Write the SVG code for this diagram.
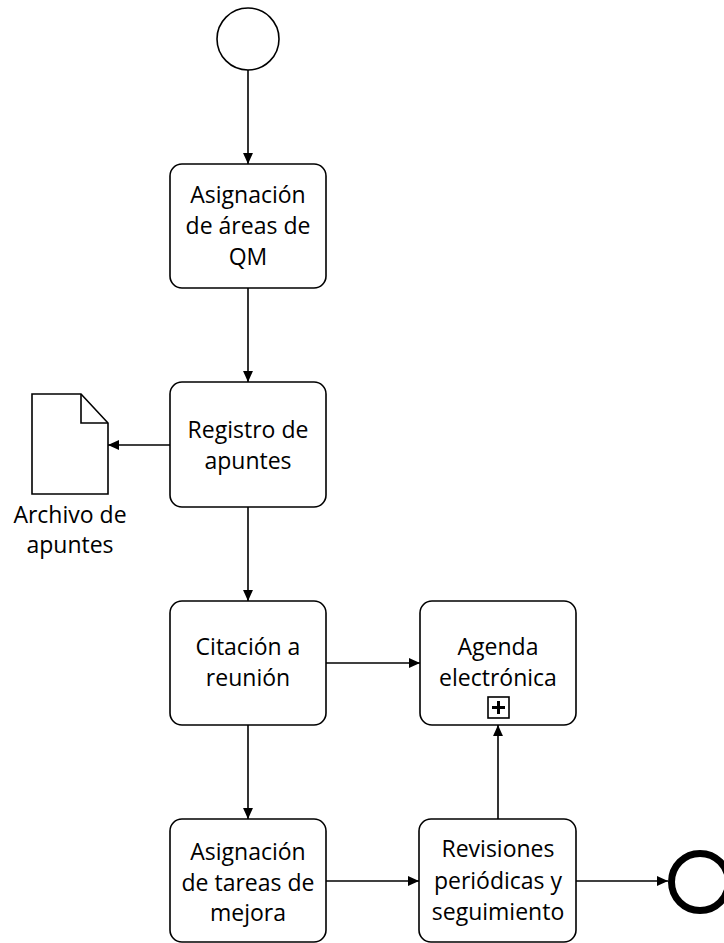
<svg xmlns="http://www.w3.org/2000/svg" width="724" height="943" viewBox="0 0 724 943">
<style>
.task{fill:#fff;stroke:#000;stroke-width:1.6}
.lbl{font-family:"Open Sans","Noto Sans","Liberation Sans",sans-serif;font-size:23px;fill:#000;text-anchor:middle}
.edge{fill:none;stroke:#000;stroke-width:1.6}
</style>
<defs>
<marker id="arr" viewBox="0 0 10 10" refX="10" refY="5" markerWidth="11" markerHeight="11" markerUnits="userSpaceOnUse" orient="auto">
<path d="M0,0.5 L10,5 L0,9.5 Z" fill="#000"/>
</marker>
</defs>
<rect width="724" height="943" fill="#fff"/>
<g id="connectors">
<line class="edge" x1="248" y1="70" x2="248" y2="164" marker-end="url(#arr)"/>
<line class="edge" x1="248" y1="288" x2="248" y2="382" marker-end="url(#arr)"/>
<line class="edge" x1="170" y1="445" x2="108" y2="445" marker-end="url(#arr)"/>
<line class="edge" x1="248" y1="507" x2="248" y2="601" marker-end="url(#arr)"/>
<line class="edge" x1="326" y1="663" x2="420" y2="663" marker-end="url(#arr)"/>
<line class="edge" x1="248" y1="725" x2="248" y2="819" marker-end="url(#arr)"/>
<line class="edge" x1="326" y1="881" x2="419" y2="881" marker-end="url(#arr)"/>
<line class="edge" x1="498" y1="819" x2="498" y2="725" marker-end="url(#arr)"/>
<line class="edge" x1="576" y1="881" x2="668" y2="881" marker-end="url(#arr)"/>
</g>
<g id="start">
<circle cx="248" cy="39" r="31" fill="#fff" stroke="#000" stroke-width="1.6"/>
</g>
<g id="task1">
<rect class="task" x="170" y="164" width="156" height="124" rx="12"/>
<text class="lbl" x="248" y="203">Asignación</text>
<text class="lbl" x="248" y="234">de áreas de</text>
<text class="lbl" x="248" y="265">QM</text>
</g>
<g id="task2">
<rect class="task" x="170" y="382" width="156" height="125" rx="12"/>
<text class="lbl" x="248" y="438">Registro de</text>
<text class="lbl" x="248" y="469">apuntes</text>
</g>
<g id="doc">
<path d="M32,394 L81,394 L108,423 L108,494 L32,494 Z" fill="#fff" stroke="#000" stroke-width="1.6"/>
<path d="M81,394 L81,423 L108,423" fill="none" stroke="#000" stroke-width="1.6"/>
<text class="lbl" x="70" y="523">Archivo de</text>
<text class="lbl" x="70" y="553">apuntes</text>
</g>
<g id="task3">
<rect class="task" x="170" y="601" width="156" height="124" rx="12"/>
<text class="lbl" x="248" y="655">Citación a</text>
<text class="lbl" x="248" y="686">reunión</text>
</g>
<g id="subprocess">
<rect class="task" x="420" y="601" width="156" height="124" rx="12"/>
<text class="lbl" x="498" y="655">Agenda</text>
<text class="lbl" x="498" y="686">electrónica</text>
<rect x="488" y="697" width="21" height="21" fill="#fff" stroke="#000" stroke-width="1.6"/>
<path d="M492,707.5 H505 M498.5,701 V714" stroke="#000" stroke-width="3" fill="none"/>
</g>
<g id="task4">
<rect class="task" x="170" y="819" width="156" height="123" rx="12"/>
<text class="lbl" x="248" y="860">Asignación</text>
<text class="lbl" x="248" y="891">de tareas de</text>
<text class="lbl" x="248" y="921">mejora</text>
</g>
<g id="task5">
<rect class="task" x="419" y="819" width="157" height="123" rx="12"/>
<text class="lbl" x="498" y="857">Revisiones</text>
<text class="lbl" x="498" y="889">periódicas y</text>
<text class="lbl" x="498" y="920">seguimiento</text>
</g>
<g id="end">
<circle cx="700" cy="882" r="28.5" fill="#fff" stroke="#000" stroke-width="7"/>
</g>
</svg>
